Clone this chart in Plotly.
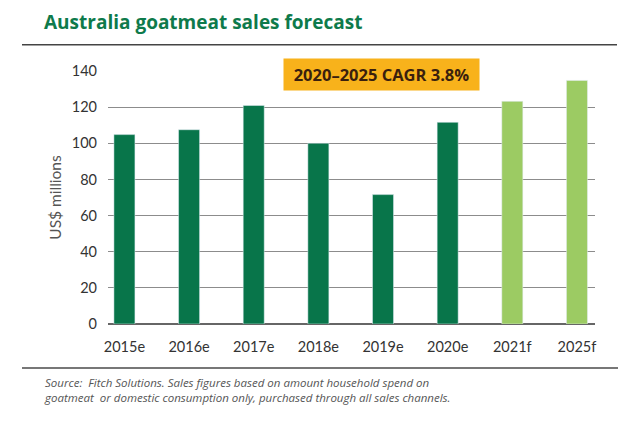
import plotly.graph_objects as go

years = ["2015e", "2016e", "2017e", "2018e", "2019e", "2020e", "2021f", "2025f"]
sales = [104.8, 107.5, 120.9, 100.0, 71.6, 111.6, 123.2, 134.8]
kinds = ["e", "e", "e", "e", "e", "e", "f", "f"]
y_ticks = [0, 20, 40, 60, 80, 100, 120, 140]

color_map = {"e": "#08754A", "f": "#9CCB63"}
colors = [color_map[k] for k in kinds]

fig = go.Figure()
fig.add_trace(go.Bar(
    x=list(range(len(years))), y=sales, marker_color=colors,
    width=0.325, showlegend=False, hoverinfo="y",
))

fig.update_layout(
    width=644, height=422,
    margin=dict(l=108, r=49, t=71, b=98),
    paper_bgcolor="white", plot_bgcolor="white",
    font=dict(family="Lato, Open Sans, sans-serif", color="#333333", size=14),
    xaxis=dict(
        range=[-0.254, 7.279], tickmode="array",
        tickvals=list(range(len(years))), ticktext=years,
        showgrid=False, zeroline=False, showline=False, ticks="",
        ticklabelstandoff=12,
        tickfont=dict(size=14.5, color="#333333"),
    ),
    yaxis=dict(
        range=[0, 140], tickvals=y_ticks,
        showgrid=True, gridcolor="#8c8c8c", gridwidth=1,
        zeroline=True, zerolinecolor="#666666", zerolinewidth=1.5,
        showline=False, ticks="", ticklabelstandoff=10,
        tickfont=dict(size=14.5, color="#333333"),
        title=dict(text="US$ millions", font=dict(size=15.5, color="#555555"), standoff=6),
    ),
    shapes=[
        dict(type="line", xref="paper", yref="paper",
             x0=-86/487, x1=(617-108)/487, y0=1 + (71.3-45)/253, y1=1 + (71.3-45)/253,
             line=dict(color="#444444", width=1.5)),
        dict(type="line", xref="paper", yref="paper",
             x0=-86/487, x1=(618-108)/487, y0=-(368.3-324.3)/253, y1=-(368.3-324.3)/253,
             line=dict(color="#777777", width=2)),
    ],
    annotations=[
        dict(text="<b>Australia goatmeat sales forecast</b>", xref="paper", yref="paper",
             x=-66/487, y=1 + (71.3-22)/253, xanchor="left", yanchor="middle",
             showarrow=False, font=dict(family="Open Sans, sans-serif", size=19, color="#0E7A4B")),
        dict(text="<b>2020\u20132025 CAGR 3.8%</b>", xref="paper", yref="paper",
             x=(381.5-108)/487, y=1 - (74.7-71.3)/253, xanchor="center", yanchor="middle",
             showarrow=False, bgcolor="#F8B21B", width=193, height=29,
             font=dict(family="Open Sans, sans-serif", size=16.5, color="#3A1F0E")),
        dict(text="<i>Source:  Fitch Solutions. Sales figures based on amount household spend on<br>goatmeat  or domestic consumption only, purchased through all sales channels.</i>",
             xref="paper", yref="paper", x=-66/487, y=-(373-324.3)/253,
             xanchor="left", yanchor="top", align="left", showarrow=False,
             font=dict(family="Open Sans, sans-serif", size=11.5, color="#555555")),
    ],
)

fig.write_html("out.html")
